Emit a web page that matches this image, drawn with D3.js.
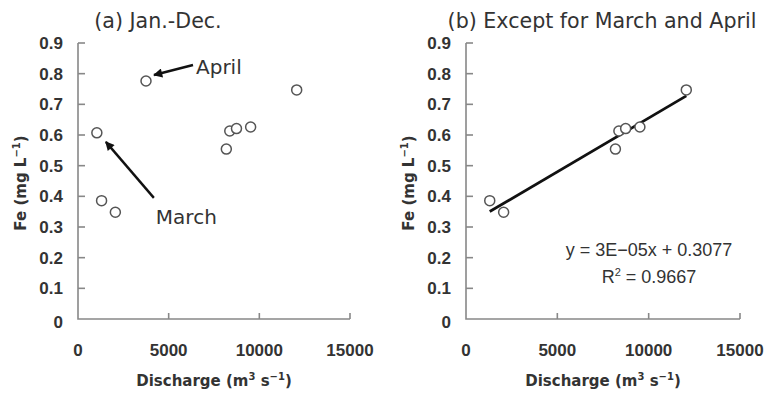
<!DOCTYPE html>
<html lang="en">
<head>
<meta charset="utf-8"/>
<title>Fe vs discharge</title>
<script src="https://d3js.org/d3.v7.min.js"></script>
<style>
  body { margin: 0; background: #fff; }
  svg { display: block; }
  .tick-label { font-family: "Liberation Sans", Arial, sans-serif; font-size: 17px; font-weight: bold; fill: #333; }
  .axis-title { font-family: "DejaVu Sans", sans-serif; font-size: 15px; font-weight: bold; fill: #333; }
  .panel-title, .note { font-family: "DejaVu Sans", sans-serif; font-size: 20px; fill: #333; }
  .panel-title { font-size: 20.6px; }
  .eq { font-family: "Liberation Sans", Arial, sans-serif; font-size: 18px; fill: #333; }
</style>
</head>
<body>
<div id="chart"></div>
<script>
  // monthly points: discharge (m3/s) and Fe (mg/L)
  const dischargeOther = [1300, 2060, 8180, 8370, 8740, 9520, 12060];
  const feOther = [0.386, 0.348, 0.554, 0.613, 0.621, 0.626, 0.747];
  const marchPoint = [1040, 0.607];
  const aprilPoint = [3750, 0.776];

  const xTicks = [0, 5000, 10000, 15000];
  const yTicks = [0, 0.1, 0.2, 0.3, 0.4, 0.5, 0.6, 0.7, 0.8, 0.9];
  const fitText = "y = 3E\u221205x + 0.3077";
  const r2Text = "0.9667";

  const width = 766, height = 394;
  const svg = d3.select("#chart").append("svg")
      .attr("width", width)
      .attr("height", height);

  const defs = svg.append("defs");
  defs.append("marker")
      .attr("id", "head")
      .attr("viewBox", "0 0 10 10")
      .attr("refX", 9).attr("refY", 5)
      .attr("markerWidth", 4.6).attr("markerHeight", 3.8)
      .attr("markerUnits", "strokeWidth")
      .attr("orient", "auto")
    .append("path")
      .attr("d", "M0,0 L10,5 L0,10 Z")
      .attr("fill", "#111");

  function panel(x0, x1, title, titleX) {
    const x = d3.scaleLinear().domain([0, 15000]).range([x0, x1]);
    const y = d3.scaleLinear().domain([0, 0.9]).range([319, 43]);
    const g = svg.append("g");

    // axis lines
    g.append("path")
        .attr("d", `M${x(0)},${y(0.9)} V${y(0)} H${x(15000)}`)
        .attr("fill", "none")
        .attr("stroke", "#888")
        .attr("stroke-width", 1.6);

    // inward ticks
    g.selectAll(".yt").data(yTicks.slice(1)).join("line")
        .attr("x1", x(0)).attr("x2", x(0) + 7)
        .attr("y1", d => y(d)).attr("y2", d => y(d))
        .attr("stroke", "#888").attr("stroke-width", 1.6);
    g.selectAll(".xt").data(xTicks.slice(1)).join("line")
        .attr("x1", d => x(d)).attr("x2", d => x(d))
        .attr("y1", y(0)).attr("y2", y(0) - 6)
        .attr("stroke", "#888").attr("stroke-width", 1.6);

    g.selectAll(".ylab").data(yTicks).join("text")
        .attr("class", "tick-label")
        .attr("x", x(0) - 15)
        .attr("y", d => y(d) + 6 + (d === 0 ? 3 : 0))
        .attr("text-anchor", "end")
        .text(d => d === 0 ? "0" : d.toFixed(1));
    g.selectAll(".xlab").data(xTicks).join("text")
        .attr("class", "tick-label")
        .attr("x", d => x(d))
        .attr("y", 356)
        .attr("text-anchor", "middle")
        .text(d => d);

    // axis titles
    const xt = g.append("text")
        .attr("class", "axis-title")
        .attr("x", (x(0) + x(15000)) / 2)
        .attr("y", 386)
        .attr("text-anchor", "middle");
    xt.append("tspan").text("Discharge (m");
    xt.append("tspan").attr("dy", -6).attr("font-size", 10).text("3");
    xt.append("tspan").attr("dy", 6).text(" s");
    xt.append("tspan").attr("dy", -6).attr("font-size", 10).text("\u22121");
    xt.append("tspan").attr("dy", 6).text(")");

    const yt = g.append("text")
        .attr("class", "axis-title")
        .attr("transform", `translate(${x(0) - 52},183) rotate(-90)`)
        .attr("text-anchor", "middle");
    yt.append("tspan").text("Fe (mg L");
    yt.append("tspan").attr("dy", -6).attr("font-size", 10).text("\u22121");
    yt.append("tspan").attr("dy", 6).text(")");

    g.append("text")
        .attr("class", "panel-title")
        .attr("x", titleX)
        .attr("y", 28)
        .attr("text-anchor", "middle")
        .text(title);

    return { g, x, y };
  }

  function dots(p, xs, ys) {
    p.g.selectAll(".pt").data(xs).join("circle")
        .attr("cx", d => p.x(d))
        .attr("cy", (d, i) => p.y(ys[i]))
        .attr("r", 5)
        .attr("fill", "#fff")
        .attr("stroke", "#555")
        .attr("stroke-width", 1.5);
  }

  // (a) all months
  const a = panel(78, 350, "(a) Jan.-Dec.", 158);
  dots(a, dischargeOther.concat([marchPoint[0], aprilPoint[0]]),
          feOther.concat([marchPoint[1], aprilPoint[1]]));

  a.g.append("line")
      .attr("x1", a.x(aprilPoint[0]) + 47).attr("y1", a.y(aprilPoint[1]) - 16)
      .attr("x2", a.x(aprilPoint[0]) + 8).attr("y2", a.y(aprilPoint[1]) - 6)
      .attr("stroke", "#111").attr("stroke-width", 2.4)
      .attr("marker-end", "url(#head)");
  a.g.append("text").attr("class", "note")
      .attr("x", a.x(aprilPoint[0]) + 50).attr("y", a.y(aprilPoint[1]) - 7)
      .text("April");

  a.g.append("line")
      .attr("x1", a.x(marchPoint[0]) + 57).attr("y1", a.y(marchPoint[1]) + 65)
      .attr("x2", a.x(marchPoint[0]) + 9).attr("y2", a.y(marchPoint[1]) + 9)
      .attr("stroke", "#111").attr("stroke-width", 2.4)
      .attr("marker-end", "url(#head)");
  a.g.append("text").attr("class", "note")
      .attr("x", a.x(marchPoint[0]) + 59).attr("y", a.y(marchPoint[1]) + 91)
      .text("March");

  // (b) without March and April, with least-squares line
  const b = panel(466, 740, "(b) Except for March and April", 602);
  const mx = d3.mean(dischargeOther), my = d3.mean(feOther);
  const slope = d3.sum(dischargeOther, (d, i) => (d - mx) * (feOther[i] - my)) /
                d3.sum(dischargeOther, d => (d - mx) * (d - mx));
  const icpt = my - slope * mx;
  const [xmin, xmax] = d3.extent(dischargeOther);

  b.g.append("line")
      .attr("x1", b.x(xmin)).attr("y1", b.y(icpt + slope * xmin))
      .attr("x2", b.x(xmax)).attr("y2", b.y(icpt + slope * xmax))
      .attr("stroke", "#111").attr("stroke-width", 2.8);
  dots(b, dischargeOther, feOther);

  b.g.append("text").attr("class", "eq")
      .attr("x", 649).attr("y", 256)
      .attr("text-anchor", "middle")
      .text(fitText);
  const r2 = b.g.append("text").attr("class", "eq")
      .attr("x", 649).attr("y", 283)
      .attr("text-anchor", "middle");
  r2.append("tspan").text("R");
  r2.append("tspan").attr("dy", -7).attr("font-size", 11).text("2");
  r2.append("tspan").attr("dy", 7).text(" = " + r2Text);
</script>
</body>
</html>
